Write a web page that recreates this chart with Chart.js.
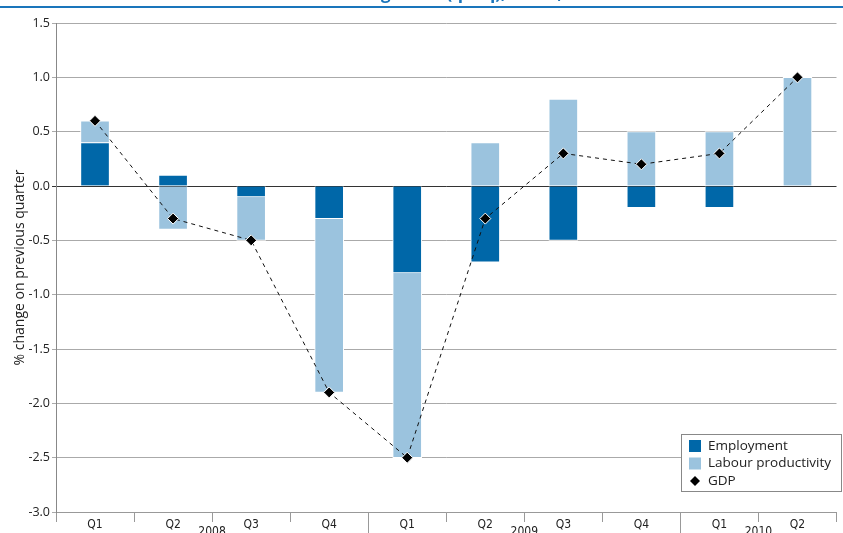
<!DOCTYPE html>
<html>
<head>
<meta charset="utf-8">
<script src="https://cdn.jsdelivr.net/npm/chart.js@4"></script>
<style>
  html, body { margin: 0; padding: 0; background: #fff; }
  #wrap { width: 843px; height: 533px; position: relative; }
</style>
</head>
<body>
<div id="wrap"><canvas id="myChart" width="843" height="533"></canvas></div>
<script>
// data
const quarters = ['Q1', 'Q2', 'Q3', 'Q4', 'Q1', 'Q2', 'Q3', 'Q4', 'Q1', 'Q2'];
const years = ['2008', '2009', '2010'];
const yearSpans = [4, 4, 2];
const employment = [0.4, 0.1, -0.1, -0.3, -0.8, -0.7, -0.5, -0.2, -0.2, 0.0];
const productivity = [0.2, -0.4, -0.4, -1.6, -1.7, 0.4, 0.8, 0.5, 0.5, 1.0];
const gdp = [0.6, -0.3, -0.5, -1.9, -2.5, -0.3, 0.3, 0.2, 0.3, 1.0];
const yTicks = [1.5, 1.0, 0.5, 0.0, -0.5, -1.0, -1.5, -2.0, -2.5, -3.0];

const darkBlue = '#0067a8';
const lightBlue = '#9bc3de';
const narrow = "'Liberation Sans Narrow', 'DejaVu Sans Condensed', sans-serif";
const plain = "'Open Sans', 'Noto Sans', sans-serif";

// title fragment, rule, year labels and custom legend
const extras = {
    id: 'extras',
    afterDraw(chart) {
        const ctx = chart.ctx;
        const area = chart.chartArea;
        ctx.save();

        // cut-off title at the very top
        ctx.fillStyle = '#1a75bb';
        ctx.font = "bold 17px " + plain;
        ctx.textAlign = 'center';
        ctx.textBaseline = 'alphabetic';
        ctx.fillText('Contributions to GDP growth (q-o-q), EU-27, 2008\u20132010', 425, -1);
        ctx.strokeStyle = '#1a75bb';
        ctx.lineWidth = 2;
        ctx.beginPath();
        ctx.moveTo(0, 7);
        ctx.lineTo(843, 7);
        ctx.stroke();

        // year labels and long year separators
        const step = (area.right - area.left) / quarters.length;
        let start = 0;
        ctx.font = "12px " + narrow;
        ctx.fillStyle = '#222';
        ctx.textBaseline = 'top';
        ctx.strokeStyle = '#999';
        ctx.lineWidth = 1;
        years.forEach((yr, i) => {
            const end = start + yearSpans[i];
            const cx = area.left + step * (start + end) / 2;
            ctx.fillText(yr, cx, 526);
            if (i < years.length - 1) {
                const bx = Math.round(area.left + step * end) + 0.5;
                ctx.beginPath();
                ctx.moveTo(bx, area.bottom);
                ctx.lineTo(bx, 533);
                ctx.stroke();
            }
            start = end;
        });

        // legend box
        const lx = 681, ly = 434, lw = 161, lh = 58;
        ctx.fillStyle = '#fff';
        ctx.fillRect(lx, ly, lw, lh);
        ctx.strokeStyle = '#888';
        ctx.strokeRect(lx + 0.5, ly + 0.5, lw - 1, lh - 1);
        ctx.font = "13.5px " + plain;
        ctx.textAlign = 'left';
        ctx.textBaseline = 'middle';
        const rows = [
            { label: 'Employment', color: darkBlue, kind: 'box' },
            { label: 'Labour productivity', color: lightBlue, kind: 'box' },
            { label: 'GDP', color: '#000', kind: 'diamond' }
        ];
        rows.forEach((r, i) => {
            const cy = ly + 12 + i * 17.5;
            ctx.fillStyle = r.color;
            if (r.kind === 'box') {
                ctx.fillRect(lx + 8, cy - 6, 12, 12);
            } else {
                ctx.beginPath();
                ctx.moveTo(lx + 14, cy - 5);
                ctx.lineTo(lx + 19, cy);
                ctx.lineTo(lx + 14, cy + 5);
                ctx.lineTo(lx + 9, cy);
                ctx.closePath();
                ctx.fill();
            }
            ctx.fillStyle = '#222';
            ctx.fillText(r.label, lx + 27, cy);
        });
        ctx.restore();
    }
};

const data = {
    labels: quarters,
    datasets: [
        {
            type: 'line',
            label: 'GDP',
            data: gdp,
            borderColor: '#111',
            borderWidth: 1,
            borderDash: [4, 4],
            pointStyle: 'rectRot',
            pointRadius: 5.5,
            pointBackgroundColor: '#000',
            pointBorderColor: '#fff',
            pointBorderWidth: 1,
            fill: false,
            order: 0
        },
        {
            label: 'Employment',
            data: employment,
            backgroundColor: darkBlue,
            borderColor: '#fff',
            borderWidth: 1,
            barThickness: 29,
            stack: 's',
            order: 1
        },
        {
            label: 'Labour productivity',
            data: productivity,
            backgroundColor: lightBlue,
            borderColor: '#fff',
            borderWidth: 1,
            barThickness: 29,
            stack: 's',
            order: 2
        }
    ]
};

const config = {
    type: 'bar',
    data,
    options: {
        responsive: false,
        devicePixelRatio: 1,
        animation: false,
        layout: { padding: { left: 0, right: 3, top: 23, bottom: 0 } },
        plugins: {
            legend: { display: false },
            tooltip: { enabled: false }
        },
        scales: {
            x: {
                stacked: true,
                grid: {
                    offset: true,
                    drawOnChartArea: false,
                    drawTicks: true,
                    tickLength: 10,
                    color: '#999'
                },
                border: { color: '#999' },
                ticks: {
                    font: { family: narrow, size: 12 },
                    color: '#222',
                    padding: -4,
                    maxRotation: 0
                },
                afterFit(scale) { scale.height = 21; }
            },
            y: {
                stacked: true,
                min: -3,
                max: 1.5,
                afterBuildTicks(scale) {
                    scale.ticks = yTicks.map(v => ({ value: v }));
                },
                grid: {
                    color: ctx => ctx.tick && ctx.tick.value === 0 ? '#333' : '#aaa',
                    tickLength: 4,
                    lineWidth: 1
                },
                border: { color: '#888' },
                ticks: {
                    font: { family: plain, size: 12.5 },
                    color: '#222',
                    padding: 2,
                    callback: v => Number(v).toFixed(1)
                },
                title: {
                    display: true,
                    text: '% change on previous quarter',
                    font: { family: plain, size: 14 },
                    color: '#222',
                    padding: { top: 12, bottom: 0 }
                },
                afterFit(scale) { scale.width = 56; }
            }
        }
    },
    plugins: [extras]
};

const myChart = new Chart(document.getElementById('myChart'), config);
</script>
</body>
</html>
